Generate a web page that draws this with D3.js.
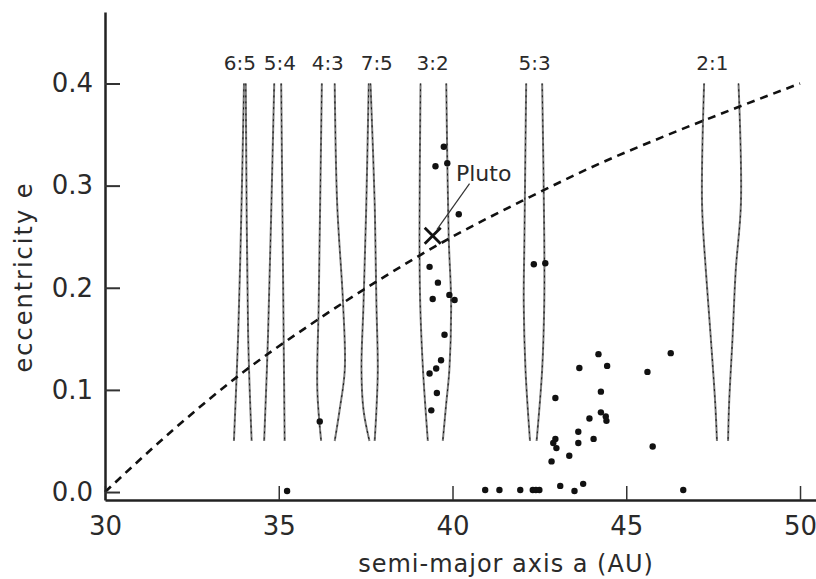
<!DOCTYPE html>
<html>
<head>
<meta charset="utf-8">
<script src="https://cdn.jsdelivr.net/npm/d3@7"></script>
<style>
  html, body { margin: 0; padding: 0; background: #fff; }
  svg { display: block; }
  text { font-family: "DejaVu Sans", sans-serif; fill: #2a2a2a; }
</style>
</head>
<body>
<svg id="chart" width="816" height="579"></svg>
<script>
// ---------- data ----------
const xTicks = [30, 35, 40, 45, 50];
const yTicks = [0.0, 0.1, 0.2, 0.3, 0.4];
const yTickLabels = ["0.0", "0.1", "0.2", "0.3", "0.4"];
const xTitle = "semi-major axis a (AU)";
const yTitle = "eccentricity e";

const resonances = ["6:5", "5:4", "4:3", "7:5", "3:2", "5:3", "2:1"];
const resonanceLabelA = [33.88, 35.03, 36.41, 37.82, 39.43, 42.36, 47.48];

// boundaries of each resonance: [eccentricity, semi-major axis]
const leftEdges = [
  [[0.40, 34.00], [0.283, 33.93], [0.152, 33.83], [0.05, 33.71]],
  [[0.40, 34.87], [0.152, 34.69], [0.05, 34.58]],
  [[0.40, 36.24], [0.185, 36.15], [0.10, 36.11], [0.05, 36.22]],
  [[0.40, 37.59], [0.283, 37.52], [0.185, 37.44], [0.12, 37.38], [0.08, 37.44], [0.05, 37.61]],
  [[0.40, 39.08], [0.25, 39.05], [0.185, 39.07], [0.12, 39.15], [0.05, 39.29]],
  [[0.40, 42.12], [0.25, 42.07], [0.185, 42.05], [0.12, 42.10], [0.05, 42.23]],
  [[0.40, 47.24], [0.283, 47.18], [0.217, 47.29], [0.152, 47.43], [0.087, 47.56], [0.05, 47.61]]
];
const rightEdges = [
  [[0.40, 34.05], [0.152, 34.12], [0.05, 34.22]],
  [[0.40, 35.07], [0.05, 35.17]],
  [[0.40, 36.61], [0.283, 36.68], [0.185, 36.85], [0.12, 36.90], [0.08, 36.75], [0.05, 36.61]],
  [[0.40, 37.64], [0.283, 37.76], [0.185, 37.81], [0.12, 37.85], [0.08, 37.81], [0.05, 37.76]],
  [[0.40, 39.82], [0.25, 39.89], [0.185, 39.96], [0.12, 39.91], [0.087, 39.82], [0.05, 39.72]],
  [[0.40, 42.58], [0.25, 42.64], [0.185, 42.64], [0.12, 42.58], [0.05, 42.42]],
  [[0.40, 48.23], [0.283, 48.30], [0.217, 48.15], [0.152, 48.06], [0.087, 47.96], [0.05, 47.93]]
];

// perihelion = Neptune's orbit curve
const curveA = [30, 32, 34, 36, 38, 40, 42, 44, 46, 48, 50];
const curveE = [0.0, 0.062, 0.118, 0.166, 0.21, 0.25, 0.285, 0.318, 0.347, 0.374, 0.40];

// Kuiper belt objects
const kboA = [39.75, 39.51, 39.85, 40.18, 39.34, 39.58, 39.43, 39.91, 40.06, 39.77, 39.67, 39.53, 39.34, 39.55, 39.39,
              42.34, 42.67, 42.96, 44.20, 46.28, 43.65, 44.45, 45.61, 44.27, 43.94, 44.27, 44.41, 44.43,
              43.62, 42.96, 42.90, 42.99, 43.62, 44.06, 45.76, 43.36, 42.85, 43.10, 43.51, 43.76,
              40.94, 41.35, 41.95, 42.31, 42.40, 42.50, 46.64, 35.24, 36.18];
const kboE = [0.338, 0.319, 0.322, 0.272, 0.2205, 0.205, 0.189, 0.193, 0.188, 0.154, 0.129, 0.121, 0.116, 0.097, 0.080,
              0.223, 0.224, 0.092, 0.135, 0.136, 0.1215, 0.1235, 0.1176, 0.0983, 0.072, 0.078, 0.074, 0.0697,
              0.059, 0.052, 0.048, 0.043, 0.048, 0.052, 0.0446, 0.0355, 0.030, 0.006, 0.001, 0.008,
              0.002, 0.002, 0.002, 0.002, 0.002, 0.002, 0.002, 0.001, 0.069];

const plutoA = 39.43, plutoE = 0.251;
const plutoLabel = "Pluto";
const plutoLabelPos = [40.10, 0.305];
const plutoLeader = [[39.55, 0.257], [40.49, 0.302]];

// ---------- chart ----------
const svg = d3.select("#chart");
const x = d3.scaleLinear().domain([30, 50.46]).range([105, 816]);
const y = d3.scaleLinear().domain([-0.0078, 0.47]).range([500, 12]);

// resonance boundaries
const edgeLine = d3.line()
  .x(d => x(d[1]))
  .y(d => y(d[0]))
  .curve(d3.curveCatmullRom.alpha(0.5));

const gRes = svg.append("g");
resonances.forEach((r, i) => {
  [leftEdges[i], rightEdges[i]].forEach(edge => {
    gRes.append("path").attr("d", edgeLine(edge))
      .attr("fill", "none").attr("stroke", "#7a7a7a").attr("stroke-width", 2);
    gRes.append("path").attr("d", edgeLine(edge))
      .attr("fill", "none").attr("stroke", "#111").attr("stroke-width", 1)
      .attr("stroke-dasharray", "2,4");
  });
  gRes.append("text")
    .attr("x", x(resonanceLabelA[i]))
    .attr("y", y(0.4) - 13)
    .attr("text-anchor", "middle")
    .attr("font-size", 20)
    .text(r);
});

// dashed q = 30 AU curve
const curveData = curveA.map((a, i) => [curveE[i], a]);
svg.append("path")
  .attr("d", d3.line().x(d => x(d[1])).y(d => y(d[0])).curve(d3.curveMonotoneX)(curveData))
  .attr("fill", "none").attr("stroke", "#111").attr("stroke-width", 2.6)
  .attr("stroke-dasharray", "8,6");

// points
svg.append("g").selectAll("circle")
  .data(kboA.map((a, i) => [a, kboE[i]]))
  .join("circle")
  .attr("cx", d => x(d[0]))
  .attr("cy", d => y(d[1]))
  .attr("r", 3.2)
  .attr("fill", "#111");

// Pluto
const px = x(plutoA), py = y(plutoE), s = 8;
svg.append("path")
  .attr("d", `M${px - s},${py - s}L${px + s},${py + s}M${px - s},${py + s}L${px + s},${py - s}`)
  .attr("stroke", "#111").attr("stroke-width", 2.8).attr("fill", "none");
svg.append("line")
  .attr("x1", x(plutoLeader[0][0])).attr("y1", y(plutoLeader[0][1]))
  .attr("x2", x(plutoLeader[1][0])).attr("y2", y(plutoLeader[1][1]))
  .attr("stroke", "#333").attr("stroke-width", 1.2);
svg.append("text")
  .attr("x", x(plutoLabelPos[0])).attr("y", y(plutoLabelPos[1]))
  .attr("font-size", 22)
  .text(plutoLabel);

// axes
const xAxis = d3.axisBottom(x).tickValues(xTicks).tickFormat(d3.format("d"))
  .tickSize(-14).tickSizeOuter(0).tickPadding(17);
const gx = svg.append("g").attr("transform", "translate(0,500)").call(xAxis);
gx.select(".domain").attr("stroke", "#222").attr("stroke-width", 2.5);
gx.selectAll(".tick line").attr("stroke", "#333").attr("stroke-width", 1.5);
gx.selectAll(".tick text").attr("font-size", 26).attr("font-family", "DejaVu Sans").attr("fill", "#2a2a2a");

const yAxis = d3.axisLeft(y).tickValues(yTicks).tickFormat((d, i) => yTickLabels[i])
  .tickSize(-15).tickSizeOuter(0).tickPadding(12);
const gy = svg.append("g").attr("transform", "translate(105,0)").call(yAxis);
gy.select(".domain").attr("stroke", "#222").attr("stroke-width", 2.5);
gy.selectAll(".tick line").attr("stroke", "#333").attr("stroke-width", 2);
gy.selectAll(".tick text").attr("font-size", 26).attr("font-family", "DejaVu Sans").attr("fill", "#2a2a2a");

// titles
svg.append("text")
  .attr("x", 506).attr("y", 572)
  .attr("text-anchor", "middle")
  .attr("font-size", 24)
  .attr("letter-spacing", 1)
  .text(xTitle);
svg.append("text")
  .attr("transform", "translate(32,277) rotate(-90)")
  .attr("text-anchor", "middle")
  .attr("font-size", 24)
  .attr("letter-spacing", 2)
  .text(yTitle);
</script>
</body>
</html>
